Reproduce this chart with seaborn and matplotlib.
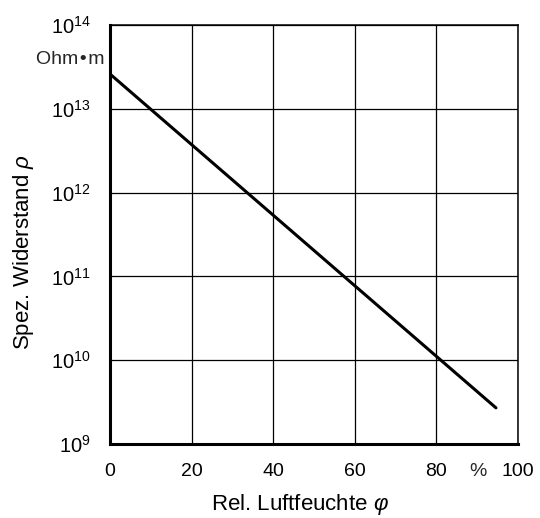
import matplotlib
matplotlib.use("Agg")
import matplotlib.pyplot as plt
import seaborn as sns
import pandas as pd
import numpy as np

# Data
humidity = [0, 94.6]                 # Rel. Luftfeuchte in %
resistivity = [2.6e13, 2.7e9]        # Spez. Widerstand in Ohm·m
x_ticks = [0, 20, 40, 60, 80, 100]
x_ticklabels = ["0", "20", "40", "60", "80", "100"]
y_ticks = [1e9, 1e10, 1e11, 1e12, 1e13, 1e14]
y_ticklabels = [r"$10^{9}$", r"$10^{10}$", r"$10^{11}$", r"$10^{12}$", r"$10^{13}$", r"$10^{14}$"]

sns.set_theme(style="white")
plt.rcParams["font.family"] = ["Liberation Sans", "DejaVu Sans"]
plt.rcParams["mathtext.fontset"] = "custom"
plt.rcParams["mathtext.rm"] = "Liberation Sans"
plt.rcParams["mathtext.it"] = "Liberation Sans:italic"

df = pd.DataFrame({"phi": humidity, "rho": resistivity})

fig = plt.figure(figsize=(5.4, 5.18), dpi=100)
ax = fig.add_axes([110/540, 74/518, 408/540, 419/518])

sns.lineplot(data=df, x="phi", y="rho", ax=ax, color="black", linewidth=2.2)
ax.set_yscale("log")
ax.set_xlim(0, 100)
ax.set_ylim(1e9, 1e14)

ax.set_xticks(x_ticks)
ax.set_xticklabels(x_ticklabels, fontsize=14)
ax.set_yticks(y_ticks)
ax.set_yticklabels(y_ticklabels, fontsize=14.5)
ax.minorticks_off()
ax.tick_params(axis="both", length=0, colors="black")
ax.tick_params(axis="x", pad=14)
ax.tick_params(axis="y", pad=14)

ax.grid(True, color="black", linewidth=0.9)
for s in ["top", "right"]:
    ax.spines[s].set_linewidth(1.1)
    ax.spines[s].set_color("black")
for s in ["left", "bottom"]:
    ax.spines[s].set_linewidth(2.2)
    ax.spines[s].set_color("black")

ax.set_xlabel(r"Rel. Luftfeuchte $\varphi$", fontsize=16, color="black")
ax.set_ylabel(r"Spez. Widerstand $\rho$", fontsize=16, color="black")
ax.xaxis.set_label_coords((300 - 110) / 408, -(510 - 444) / 419)
ax.xaxis.label.set_verticalalignment("baseline")
ax.yaxis.set_label_coords((24 - 110) / 408, (444 - 252) / 419)
ax.yaxis.label.set_verticalalignment("center")

fig.text(104/540, 1 - 60/518, "Ohm\u200a•\u200am", ha="right", va="center", fontsize=14)
fig.text(478/540, 1 - 472/518, "%", ha="center", va="center", fontsize=14)

fig.savefig("out.png", dpi=100)
